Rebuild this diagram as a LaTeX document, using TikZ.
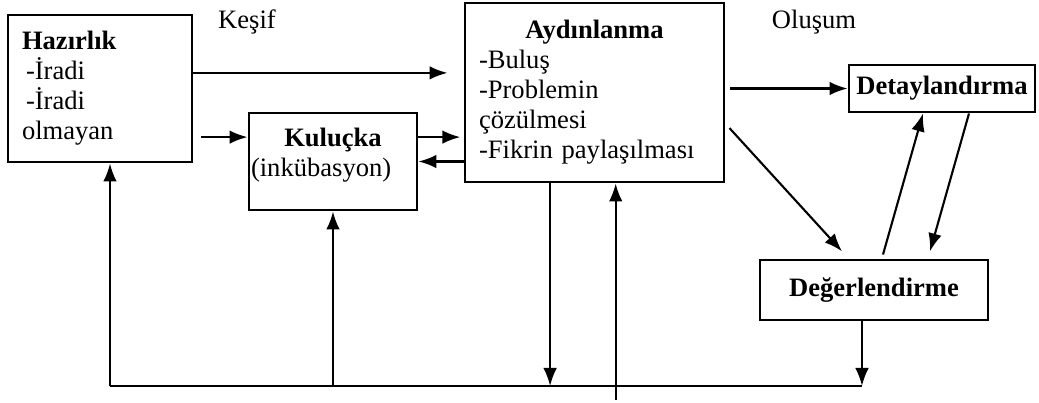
\documentclass[tikz,border=0pt]{standalone}
\usepackage{fontspec}
\setmainfont{Liberation Serif}
\usepackage{tikz}
\usetikzlibrary{arrows.meta,calc}

\begin{document}
\begin{tikzpicture}[
        box/.style={draw, line width=2.1pt, inner xsep=0.35cm, inner ysep=0pt, align=left},
        arr/.style={line width=1.5pt, -{Latex[length=0.45cm,width=0.34cm]}},
        font=\fontsize{18.9pt}{21.3pt}\selectfont]
        \useasboundingbox (0,0) rectangle (25.975,10.075);

        % Hazirlik
        \node[box, text width=3.9cm, minimum height=3.675cm] (hazirlik) at (2.5,7.8625)
            {\textbf{Hazırlık}\\ \hspace*{0.1cm}-İradi\\ \hspace*{0.1cm}-İradi\\ olmayan};
        \node (kesif) at (6.175,9.525) {Keşif};

        % Kulucka
        \node[box, inner xsep=0.05cm, text width=4.1cm, text depth=1.2cm, minimum height=2.425cm] (kulucka) at (8.325,6.0375)
            {\makebox[\linewidth]{\textbf{Kuluçka}}\\(inkübasyon)};

        % Aydinlanma
        \node[box, text width=5.775cm, minimum height=4.475cm] (aydinlanma) at (14.8625,7.7625)
            {\makebox[\linewidth]{\textbf{Aydınlanma}}\\-Buluş\\-Problemin\\çözülmesi\\-Fikrin paylaşılması};
        \node (olusum) at (20.35,9.525) {Oluşum};

        % Detaylandirma and Degerlendirme
        \node[box, inner xsep=0pt, minimum width=4.65cm, minimum height=1.175cm] (detay) at (23.55,7.8625) {\textbf{Detaylandırma}};
        \node[box, minimum width=5.7cm, minimum height=1.5cm] (deger) at (21.85,2.825) {\textbf{Değerlendirme}};

        % Upper arrows
        \draw[arr, shorten >=0.4cm] ($(hazirlik.east)+(0,0.39)$) -- ($(hazirlik.east -| aydinlanma.west)+(0,0.39)$);
        \draw[arr, shorten <=0.2cm] ($(kulucka.west -| hazirlik.east)+(0,0.61)$) -- ($(kulucka.west)+(0,0.61)$);
        \draw[arr, shorten >=0.08cm] ($(kulucka.east)+(0,0.61)$) -- ($(kulucka.east -| aydinlanma.west)+(0,0.61)$);
        \draw[arr] (kulucka.east -| aydinlanma.west) -- (kulucka.east);
        \draw[arr, shorten <=0.12cm] (aydinlanma.east |- detay.west) -- (detay.west);
        \draw[arr] ($(aydinlanma.east)+(0.1,-0.89)$) -- ($(deger.north)+(-0.8,0.18)$);
        \draw[arr] ($(deger.north)+(0.225,0.1)$) -- ($(detay.south)+(-0.475,0)$);
        \draw[arr] ($(detay.south)+(0.675,0)$) -- ($(deger.north)+(1.4,0.18)$);

        % Feedback line
        \coordinate (bl) at (2.75,0.425);
        \coordinate (br) at ($(deger.south |- bl)+(-0.3,0)$);
        \draw[line width=2.1pt] (bl) -- (br);
        \draw[arr] (bl) -- (bl |- hazirlik.south);
        \draw[arr] (kulucka.south |- bl) -- (kulucka.south);
        \draw[arr] ($(aydinlanma.south)+(-1.11,0)$) -- ($(aydinlanma.south |- bl)+(-1.11,0)$);
        \draw[arr] ($(aydinlanma.south |- bl)+(0.53,-0.35)$) -- ($(aydinlanma.south)+(0.53,0)$);
        \draw[arr] ($(deger.south)+(-0.3,0)$) -- (br);
    \end{tikzpicture}
\end{document}
